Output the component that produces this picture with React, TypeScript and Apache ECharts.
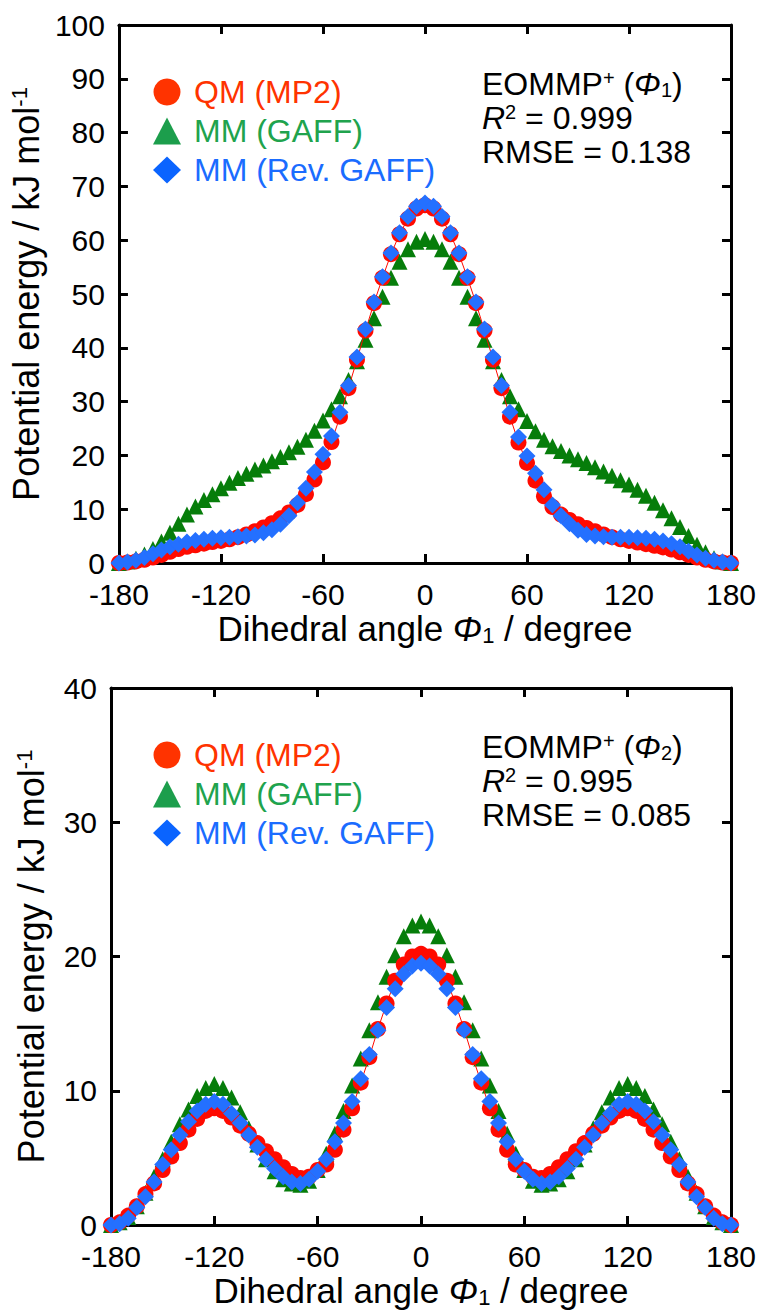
import React, { useEffect, useRef } from "react";
import * as echarts from "echarts";

const angles: number[] = [];
for (let a = -180; a <= 180; a += 5) angles.push(a);

const xTicks = [-180, -120, -60, 0, 60, 120, 180];

// Panel 1 (Phi1)
const qm1 = [0, 0.1, 0.3, 0.6, 1.0, 1.5, 2.1, 2.6, 3.0, 3.3, 3.6, 3.9, 4.1, 4.4, 4.8, 5.3, 5.9, 6.6, 7.4, 8.3, 9.4, 10.8, 12.8, 15.5, 18.7, 22.5, 27.2, 32.5, 37.8, 43.2, 48.3, 53.0, 57.4, 61.1, 64.0, 65.9, 66.5,
  65.9, 64.0, 61.1, 57.4, 53.0, 48.3, 43.2, 37.8, 32.5, 27.2, 22.4, 18.6, 15.3, 12.4, 10.4, 9.0, 8.0, 7.2, 6.5, 5.9, 5.3, 4.8, 4.4, 4.1, 3.8, 3.5, 3.2, 2.9, 2.5, 2.0, 1.5, 1.0, 0.6, 0.3, 0.1, 0];
const gaff1 = [0, 0.3, 0.8, 1.6, 2.6, 4.0, 5.6, 7.3, 9.0, 10.5, 11.7, 12.8, 13.9, 14.9, 15.8, 16.6, 17.4, 18.1, 18.9, 19.7, 20.6, 21.6, 22.9, 24.6, 26.5, 28.6, 31.0, 34.0, 37.5, 41.5, 45.5, 49.5, 53.0, 56.0, 58.3, 59.7, 60.2,
  59.7, 58.3, 56.0, 53.0, 49.5, 45.5, 41.5, 37.5, 34.0, 31.0, 28.6, 26.4, 24.5, 22.9, 21.7, 20.8, 20.0, 19.3, 18.6, 17.8, 17.0, 16.2, 15.4, 14.6, 13.6, 12.5, 11.2, 9.8, 8.3, 6.7, 5.0, 3.4, 2.0, 0.9, 0.3, 0];
const rev1 = [0, 0.2, 0.5, 1.0, 1.7, 2.4, 3.0, 3.5, 3.9, 4.2, 4.4, 4.6, 4.7, 4.8, 4.9, 5.0, 5.2, 5.6, 6.2, 7.2, 8.8, 11.2, 13.9, 16.9, 20.2, 23.6, 28.0, 33.0, 38.3, 43.5, 48.5, 53.2, 57.6, 61.4, 64.4, 66.3, 66.9,
  66.3, 64.4, 61.4, 57.6, 53.2, 48.5, 43.5, 38.3, 33.0, 28.0, 23.4, 19.9, 16.7, 13.6, 10.8, 8.8, 7.3, 6.1, 5.3, 5.0, 4.9, 4.8, 4.8, 4.8, 4.7, 4.6, 4.4, 4.1, 3.6, 3.0, 2.2, 1.5, 0.9, 0.5, 0.2, 0];

// Panel 2 (Phi2)
const qm2 = [0, 0.2, 0.7, 1.4, 2.3, 3.1, 4.1, 5.1, 6.1, 7.1, 7.9, 8.5, 8.7, 8.5, 8.0, 7.4, 6.8, 6.1, 5.5, 4.9, 4.3, 3.8, 3.5, 3.6, 4.1, 4.5, 5.6, 7.1, 8.7, 10.6, 12.5, 14.6, 16.5, 18.2, 19.4, 20.0, 20.2,
  20.0, 19.4, 18.2, 16.5, 14.6, 12.5, 10.6, 8.7, 7.1, 5.6, 4.5, 4.1, 3.6, 3.5, 3.8, 4.3, 4.9, 5.5, 6.1, 6.8, 7.4, 8.0, 8.5, 8.7, 8.5, 7.9, 7.1, 6.1, 5.1, 4.1, 3.1, 2.3, 1.4, 0.7, 0.2, 0];
const gaff2 = [0, 0.2, 0.6, 1.4, 2.4, 3.6, 4.9, 6.2, 7.5, 8.6, 9.6, 10.2, 10.5, 10.2, 9.5, 8.4, 7.2, 6.0, 4.9, 4.0, 3.4, 3.1, 3.0, 3.3, 4.1, 5.3, 6.8, 8.5, 10.4, 12.4, 14.5, 16.6, 18.5, 20.1, 21.5, 22.3, 22.6,
  22.3, 21.5, 20.1, 18.5, 16.6, 14.5, 12.4, 10.4, 8.5, 6.8, 5.3, 4.1, 3.3, 3.0, 3.1, 3.4, 4.0, 4.9, 6.0, 7.2, 8.4, 9.5, 10.2, 10.5, 10.2, 9.6, 8.6, 7.5, 6.2, 4.9, 3.6, 2.4, 1.4, 0.6, 0.2, 0];
const rev2 = [0, 0.1, 0.5, 1.3, 2.1, 3.2, 4.5, 5.6, 6.7, 7.7, 8.5, 9.0, 9.2, 9.0, 8.3, 7.6, 6.7, 5.8, 4.9, 4.2, 3.6, 3.2, 3.1, 3.4, 4.0, 4.9, 6.2, 7.6, 9.2, 10.9, 12.7, 14.5, 16.2, 17.6, 18.7, 19.3, 19.5,
  19.3, 18.7, 17.6, 16.2, 14.5, 12.7, 10.9, 9.2, 7.6, 6.2, 4.9, 4.0, 3.4, 3.1, 3.2, 3.6, 4.2, 4.9, 5.8, 6.7, 7.6, 8.3, 9.0, 9.2, 9.0, 8.5, 7.7, 6.7, 5.6, 4.5, 3.2, 2.1, 1.3, 0.5, 0.1, 0];

const seriesNames = ["QM (MP2)", "MM (GAFF)", "MM (Rev. GAFF)"];
const panel1Stats = ["0.999", "0.138"];
const panel2Stats = ["0.995", "0.085"];

const FONT = "Liberation Sans, Arial, sans-serif";

function pairs(vals: number[]) {
  return angles.map((a, i) => [a, vals[i]]);
}

export default function App() {
  const ref = useRef<HTMLDivElement>(null);
  useEffect(() => {
    if (!ref.current) return;
    const chart = echarts.init(ref.current, null, { renderer: "svg" });
    const grids = [
      { left: 111, top: 25, width: 620, height: 538 },
      { left: 111, top: 688, width: 620, height: 537 },
    ];
    const axisLine = { show: true, onZero: false, lineStyle: { color: "#000", width: 3 } };
    const tick = { show: true, inside: true, length: 9, lineStyle: { color: "#000", width: 3 } };
    const labelStyle = { fontSize: 30, color: "#000", fontFamily: FONT };
    const xName = "Dihedral angle {phi|Φ}{sub|1} / degree";
    const nameRich = {
      phi: { fontSize: 35, fontStyle: "italic", fontFamily: FONT, color: "#000" },
      sub: { fontSize: 22, fontFamily: FONT, color: "#000", verticalAlign: "bottom", padding: [14, 0, 0, 0] },
      sup: { fontSize: 22, fontFamily: FONT, color: "#000", verticalAlign: "top", padding: [0, 0, 14, 0] },
    };
    const xAxes: any[] = [];
    const yAxes: any[] = [];
    const yMax = [100, 40];
    grids.forEach((g, gi) => {
      xAxes.push({
        gridIndex: gi, type: "value", min: -180, max: 180, interval: 60, position: "bottom",
        axisLine, axisTick: tick, splitLine: { show: false },
        axisLabel: { ...labelStyle, margin: 16, formatter: (v: number) => (xTicks.includes(v) ? String(v) : "") },
        name: xName, nameLocation: "middle", nameGap: 47,
        nameTextStyle: { fontSize: 35, color: "#000", fontFamily: FONT, rich: nameRich },
      });
      xAxes.push({
        gridIndex: gi, type: "value", min: -180, max: 180, interval: 60, position: "top",
        axisLine, axisTick: tick, splitLine: { show: false }, axisLabel: { show: false },
      });
      yAxes.push({
        gridIndex: gi, type: "value", min: 0, max: yMax[gi], interval: 10, position: "left",
        axisLine, axisTick: tick, splitLine: { show: false },
        axisLabel: { ...labelStyle, margin: 14 },
        name: "Potential energy / kJ mol{sup|-1}", nameLocation: "middle", nameRotate: 90, nameGap: 62,
        nameTextStyle: { fontSize: 36, color: "#000", fontFamily: FONT, rich: nameRich },
      });
      yAxes.push({
        gridIndex: gi, type: "value", min: 0, max: yMax[gi], interval: 10, position: "right",
        axisLine, axisTick: tick, splitLine: { show: false }, axisLabel: { show: false },
      });
    });

    const panelData = [
      [gaff1, qm1, rev1],
      [gaff2, qm2, rev2],
    ];
    const series: any[] = [];
    panelData.forEach((pd, gi) => {
      series.push({
        type: "scatter", name: seriesNames[1], xAxisIndex: gi * 2, yAxisIndex: gi * 2,
        data: pairs(pd[0]), symbol: "triangle", symbolSize: 16, itemStyle: { color: "#067d0a", opacity: 1 }, z: 2,
      });
      series.push({
        type: "line", name: seriesNames[0], xAxisIndex: gi * 2, yAxisIndex: gi * 2,
        data: pairs(pd[1]), symbol: "circle", symbolSize: 16, showSymbol: true,
        itemStyle: { color: "#ff0a00", opacity: 1 }, lineStyle: { color: "#ff0a00", width: 1 }, z: 3,
      });
      series.push({
        type: "scatter", name: seriesNames[2], xAxisIndex: gi * 2, yAxisIndex: gi * 2,
        data: pairs(pd[2]), symbol: "diamond", symbolSize: 17, itemStyle: { color: "#2470ff", opacity: 1 }, z: 4,
      });
    });

    const legendColors = [
      { icon: "circle", c: "#ff3300", t: "#ff3300" },
      { icon: "triangle", c: "#1c9e4c", t: "#20a34d" },
      { icon: "diamond", c: "#0a64ff", t: "#1a6cff" },
    ];
    const legends = grids.map((g) => ({
      orient: "vertical", left: 148, top: g.top + 46, itemWidth: 28, itemHeight: 27, itemGap: 7,
      selectedMode: false,
      textStyle: { fontSize: 32, fontFamily: FONT, padding: [0, 0, 0, 8], lineHeight: 27 },
      data: seriesNames.map((n, i) => ({
        name: n, icon: legendColors[i].icon,
        itemStyle: { color: legendColors[i].c, opacity: 1 },
        textStyle: { color: legendColors[i].t },
      })),
    }));

    const textRich = {
      sup: { fontSize: 20, fontFamily: FONT, fill: "#000", verticalAlign: "top", padding: [0, 0, 12, 0] },
      sub: { fontSize: 20, fontFamily: FONT, fill: "#000", verticalAlign: "bottom", padding: [12, 0, 0, 0] },
      it: { fontSize: 32, fontStyle: "italic", fontFamily: FONT, fill: "#000" },
    };
    const graphics: any[] = [];
    const stats = [panel1Stats, panel2Stats];
    grids.forEach((g, gi) => {
      const rows = [
        `EOMMP{sup|+} ({it|Φ}{sub|${gi + 1}})`,
        `{it|R}{sup|2} = ${stats[gi][0]}`,
        `RMSE = ${stats[gi][1]}`,
      ];
      rows.forEach((r, ri) => {
        graphics.push({
          type: "text", left: 482, top: g.top + 43 + ri * 34,
          style: { text: r, rich: textRich, fontSize: 32, fontFamily: FONT, fill: "#000" },
        });
      });
    });

    chart.setOption({
      animation: false,
      backgroundColor: "#fff",
      grid: grids,
      xAxis: xAxes,
      yAxis: yAxes,
      legend: legends,
      series,
      graphic: graphics,
    });
    return () => chart.dispose();
  }, []);
  return <div ref={ref} style={{ position: "absolute", left: 0, top: 0, width: 762, height: 1313 }} />;
}
